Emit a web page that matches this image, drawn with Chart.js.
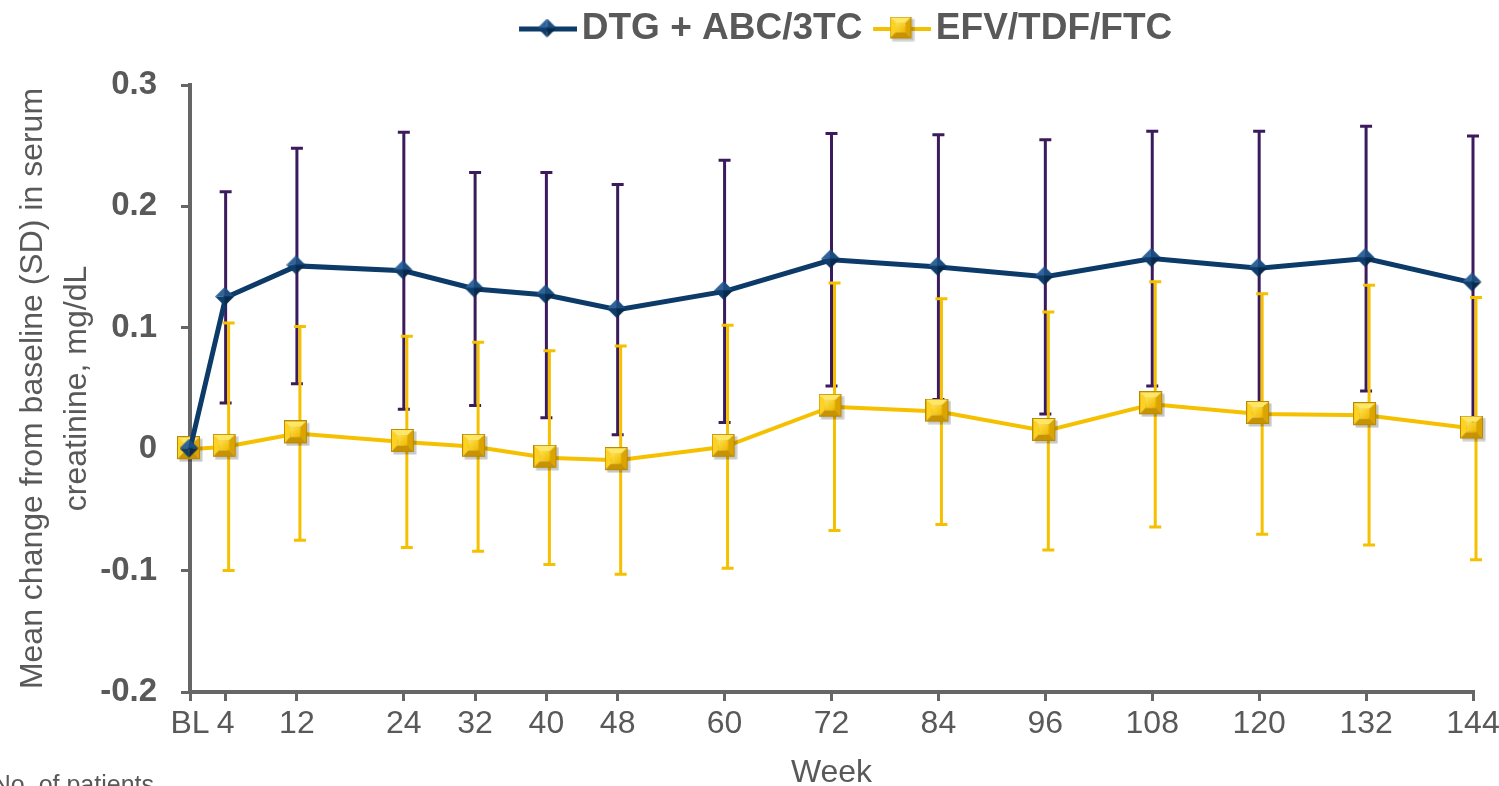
<!DOCTYPE html>
<html>
<head>
<meta charset="utf-8">
<script src="https://cdn.jsdelivr.net/npm/chart.js@4/dist/chart.umd.min.js"></script>
<style>
  html, body { margin: 0; padding: 0; background: #fff; }
  #wrap { width: 1499px; height: 786px; position: relative; }
</style>
</head>
<body>
<div id="wrap"><canvas id="creatChart" width="1499" height="786"></canvas></div>
<script>
// <=============================== data ===============================>
const weeks = [0, 4, 12, 24, 32, 40, 48, 60, 72, 84, 96, 108, 120, 132, 144];
const weekLabels = ['BL', '4', '12', '24', '32', '40', '48', '60', '72', '84', '96', '108', '120', '132', '144'];

const dtgMean = [0, 0.125, 0.151, 0.147, 0.132, 0.127, 0.115, 0.130, 0.156, 0.150, 0.142, 0.157, 0.149, 0.157, 0.137];
const dtgSD   = [0, 0.087, 0.097, 0.114, 0.096, 0.101, 0.103, 0.108, 0.104, 0.109, 0.113, 0.105, 0.113, 0.109, 0.121];

const efvMean = [0, 0.002, 0.013, 0.006, 0.002, -0.007, -0.009, 0.002, 0.035, 0.031, 0.015, 0.037, 0.029, 0.028, 0.017];
const efvSD   = [0, 0.102, 0.088, 0.087, 0.086, 0.088, 0.094, 0.100, 0.102, 0.093, 0.098, 0.101, 0.099, 0.107, 0.108];

const yTicks = [-0.2, -0.1, 0, 0.1, 0.2, 0.3];

const GREY = '#595959';
const NAVY = '#0c3a69';
const GOLD = '#f5c000';
const SANS = '"Liberation Sans", Arial, sans-serif';

// <=============================== markers ===============================>
function makeSquare(s) {
    var c = document.createElement('canvas');
    c.width = s + 3; c.height = s + 3;
    var g = c.getContext('2d');
    g.fillStyle = 'rgba(0,0,0,0.22)';
    g.fillRect(2.5, 2.5, s, s);
    var i = s * 0.28;
    function quad(p, col) {
        g.beginPath();
        g.moveTo(p[0][0], p[0][1]);
        for (var k = 1; k < p.length; k++) g.lineTo(p[k][0], p[k][1]);
        g.closePath();
        g.fillStyle = col;
        g.fill();
    }
    quad([[0, 0], [s, 0], [s - i, i], [i, i]], '#ffe766');        // top
    quad([[0, 0], [i, i], [i, s - i], [0, s]], '#ffd21f');        // left
    quad([[s, 0], [s, s], [s - i, s - i], [s - i, i]], '#dca400'); // right
    quad([[0, s], [i, s - i], [s - i, s - i], [s, s]], '#c89300'); // bottom
    var grad = g.createLinearGradient(i, i, s - i, s - i);
    grad.addColorStop(0, '#ffe14a');
    grad.addColorStop(1, '#f0b800');
    g.fillStyle = grad;
    g.fillRect(i, i, s - 2 * i, s - 2 * i);
    g.strokeStyle = '#b98a00';
    g.lineWidth = 1;
    g.strokeRect(0.5, 0.5, s - 1, s - 1);
    return c;
}

function makeDiamond(s) {
    var c = document.createElement('canvas');
    c.width = s + 2; c.height = s + 2;
    var g = c.getContext('2d');
    var m = s / 2;
    function tri(p, col) {
        g.beginPath();
        g.moveTo(p[0][0], p[0][1]);
        g.lineTo(p[1][0], p[1][1]);
        g.lineTo(p[2][0], p[2][1]);
        g.closePath();
        g.fillStyle = col;
        g.fill();
    }
    tri([[m, 0], [0, m], [m, m]], '#2f639a');
    tri([[m, 0], [s, m], [m, m]], '#1a4d80');
    tri([[0, m], [m, s], [m, m]], '#0f3d6b');
    tri([[s, m], [m, s], [m, m]], '#082a4c');
    return c;
}

// legend sample: line with the marker in the middle.
// image is 72 wide, visible line sits on its right 58px so text follows closely
function makeLegendIcon(color, lw, marker) {
    var c = document.createElement('canvas');
    c.width = 72; c.height = 28;
    var g = c.getContext('2d');
    var a = 14;
    g.strokeStyle = color;
    g.lineWidth = lw;
    g.beginPath();
    g.moveTo(a, 14);
    g.lineTo(a + 58, 14);
    g.stroke();
    g.drawImage(marker, a + 29 - marker.width / 2, 14 - marker.height / 2);
    return c;
}

const squareImg = makeSquare(23);
const diamondImg = makeDiamond(19);
const legendDtg = makeLegendIcon(NAVY, 5, makeDiamond(19));
const legendEfv = makeLegendIcon(GOLD, 4, makeSquare(22));

// <=============================== plugins ===============================>
// SD bars, drawn under the lines
const errorBars = {
    id: 'errorBars',
    beforeDatasetsDraw(chart) {
        const ctx = chart.ctx;
        const y = chart.scales.y;
        const sets = [
            { idx: 0, sd: dtgSD, mean: dtgMean, color: '#3b1b5e', dx: 0 },
            { idx: 1, sd: efvSD, mean: efvMean, color: GOLD, dx: 3 }
        ];
        ctx.save();
        sets.forEach(function(s) {
            const meta = chart.getDatasetMeta(s.idx);
            ctx.strokeStyle = s.color;
            ctx.lineWidth = 3;
            meta.data.forEach(function(pt, i) {
                if (!s.sd[i]) return;
                const x = pt.x + s.dx;
                const top = y.getPixelForValue(s.mean[i] + s.sd[i]);
                const bot = y.getPixelForValue(s.mean[i] - s.sd[i]);
                ctx.beginPath();
                ctx.moveTo(x, top); ctx.lineTo(x, bot);
                ctx.moveTo(x - 6, top); ctx.lineTo(x + 6, top);
                ctx.moveTo(x - 6, bot); ctx.lineTo(x + 6, bot);
                ctx.stroke();
            });
        });
        ctx.restore();
    }
};

// legend is not centred on the canvas in the original, nudge it right and pin it to the top
const legendShift = {
    id: 'legendShift',
    afterLayout(chart) {
        const lg = chart.legend;
        if (lg) {
            const h = lg.height;
            lg.left += 96;
            lg.right += 96;
            lg.top = 0;
            lg.bottom = h;
        }
    }
};

// cut-off caption at the bottom left
const footNote = {
    id: 'footNote',
    afterDraw(chart) {
        const ctx = chart.ctx;
        ctx.save();
        ctx.font = '25px ' + SANS;
        ctx.fillStyle = GREY;
        ctx.textAlign = 'right';
        ctx.textBaseline = 'top';
        ctx.fillText('No. of patients', 154, 774);
        ctx.restore();
    }
};

// <=============================== chart ===============================>
const ctx = document.getElementById('creatChart').getContext('2d');
new Chart(ctx, {
    type: 'line',
    data: {
        datasets: [{
            label: 'DTG + ABC/3TC',
            data: weeks.map((w, i) => ({ x: w, y: dtgMean[i] })),
            borderColor: NAVY,
            borderWidth: 5,
            pointStyle: diamondImg,
            tension: 0,
            clip: false
        }, {
            label: 'EFV/TDF/FTC',
            data: weeks.map((w, i) => ({ x: w, y: efvMean[i] })),
            borderColor: GOLD,
            borderWidth: 4,
            pointStyle: squareImg,
            tension: 0,
            clip: false
        }]
    },
    options: {
        responsive: false,
        animation: false,
        layout: { padding: 0 },
        plugins: {
            legend: {
                position: 'top',
                labels: {
                    color: GREY,
                    font: { family: SANS, size: 37, weight: 'bold' },
                    usePointStyle: true,
                    pointStyleWidth: 44.5,
                    padding: 10.5,
                    generateLabels: function(chart) {
                        return [
                            { text: 'DTG + ABC/3TC', pointStyle: legendDtg, fontColor: GREY, lineWidth: 0, strokeStyle: 'transparent', datasetIndex: 0 },
                            { text: 'EFV/TDF/FTC', pointStyle: legendEfv, fontColor: GREY, lineWidth: 0, strokeStyle: 'transparent', datasetIndex: 1 }
                        ];
                    }
                }
            },
            tooltip: { enabled: false }
        },
        scales: {
            x: {
                type: 'linear',
                min: 0,
                max: 144,
                afterBuildTicks: function(scale) {
                    scale.ticks = weeks.map(w => ({ value: w }));
                },
                afterFit: function(scale) {
                    scale.height = 94;
                    scale.paddingRight = 26;
                },
                ticks: {
                    autoSkip: false,
                    maxRotation: 0,
                    padding: 4,
                    color: GREY,
                    font: { family: SANS, size: 32 },
                    callback: function(v) {
                        const i = weeks.indexOf(v);
                        return i >= 0 ? weekLabels[i] : '';
                    }
                },
                grid: { drawOnChartArea: false, color: '#666', lineWidth: 3, tickLength: 9 },
                border: { color: '#666', width: 4 },
                title: {
                    display: true,
                    text: 'Week',
                    color: GREY,
                    font: { family: SANS, size: 32, lineHeight: 1 },
                    padding: { top: 0, bottom: -3 }
                }
            },
            y: {
                min: -0.2,
                max: 0.3,
                afterBuildTicks: function(scale) {
                    scale.ticks = yTicks.map(v => ({ value: v }));
                },
                afterFit: function(scale) {
                    scale.width = 190;
                    scale.paddingTop = 85;
                },
                ticks: {
                    padding: 24,
                    color: GREY,
                    font: { family: SANS, size: 33, weight: 'bold' },
                    callback: function(v) {
                        return Math.abs(v) < 1e-9 ? '0' : v.toFixed(1);
                    }
                },
                grid: { drawOnChartArea: false, color: '#666', lineWidth: 3, tickLength: 9 },
                border: { color: '#666', width: 4 },
                title: {
                    display: true,
                    text: ['Mean change from baseline (SD) in serum', 'creatinine, mg/dL'],
                    color: GREY,
                    font: { family: SANS, size: 32, lineHeight: 1.375 },
                    padding: { top: 11, bottom: 0 }
                }
            }
        }
    },
    plugins: [errorBars, legendShift, footNote]
});
</script>
</body>
</html>
